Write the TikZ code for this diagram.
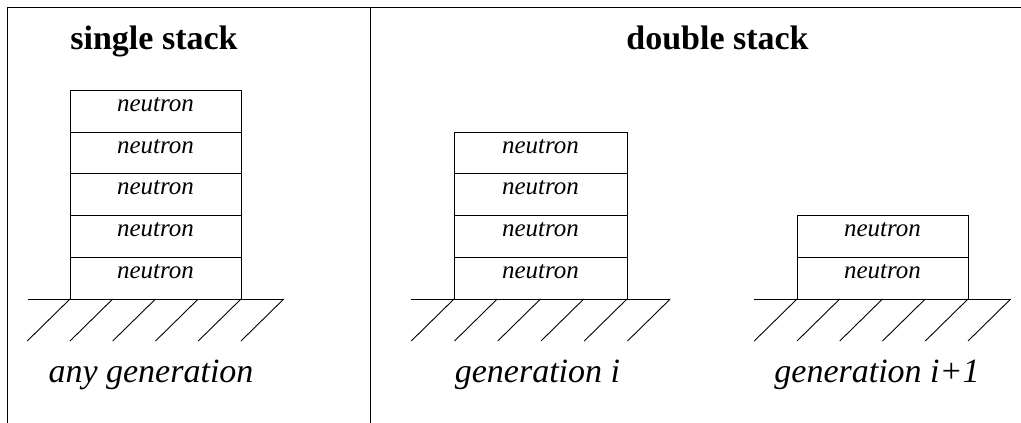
\documentclass[tikz,border=0pt]{standalone}
\usepackage{fontspec}
\setmainfont{Liberation Serif}
\begin{document}
\begin{tikzpicture}[x=1pt,y=-1pt,line width=1pt,
  cell/.style={draw, inner sep=0pt, minimum width=#1, text height=21pt, text depth=20.75pt, font=\fontsize{25}{25}\selectfont\itshape},
  title/.style={anchor=base, inner sep=0pt, font=\fontsize{34}{34}\selectfont\bfseries},
  gen/.style={anchor=base, inner sep=0pt, font=\fontsize{34}{34}\selectfont\itshape},
  frameline/.style={line width=1pt},
  groundline/.style={line width=1pt},
  hatch/.style={line width=0.9pt}]
\useasboundingbox (0,0) rectangle (1021,423);
% frame
\coordinate (tl) at (7,7);
\coordinate (tr) at (1021,7);
\coordinate (bl) at (7,423);
\coordinate (dt) at (370,7);
\coordinate (db) at (370,423);
\draw[frameline] (bl) -- (tl) -- (tr);
\draw[frameline] (dt) -- (db);
% titles
\node[title] (t1) at (154,49) {single stack};
\node[title] (t2) at (717.5,49) {double stack};
% left stack (5 cells)
\foreach \k in {0,...,4}
  \node[cell=171pt] (a\k) at (155.5,{299-41.75*(\k+0.5)}) {neutron};
% centre stack (4 cells)
\foreach \k in {0,...,3}
  \node[cell=173pt] (b\k) at (540.5,{299-41.75*(\k+0.5)}) {neutron};
% right stack (2 cells)
\foreach \k in {0,...,1}
  \node[cell=171pt] (c\k) at (882.5,{299-41.75*(\k+0.5)}) {neutron};
% grounds
\coordinate (ga) at (70,299);
\coordinate (gb) at (454,299);
\coordinate (gc) at (797,299);
\draw[groundline] (28,299) -- (284,299);
\foreach \i in {0,...,5} \draw[hatch] ({70+42.75*\i},299) -- ++(-42.75,42);
\draw[groundline] (411,299) -- (670,299);
\foreach \i in {0,...,5} \draw[hatch] ({454+43.25*\i},299) -- ++(-42.75,42);
\draw[groundline] (754,299) -- (1011,299);
\foreach \i in {0,...,5} \draw[hatch] ({797+42.75*\i},299) -- ++(-42.75,42);
% labels
\node[gen] (l1) at (151,382) {any generation};
\node[gen] (l2) at (537.5,382) {generation \textit{i}};
\node[gen] (l3) at (877,382) {generation i+1};
\end{tikzpicture}
\end{document}
